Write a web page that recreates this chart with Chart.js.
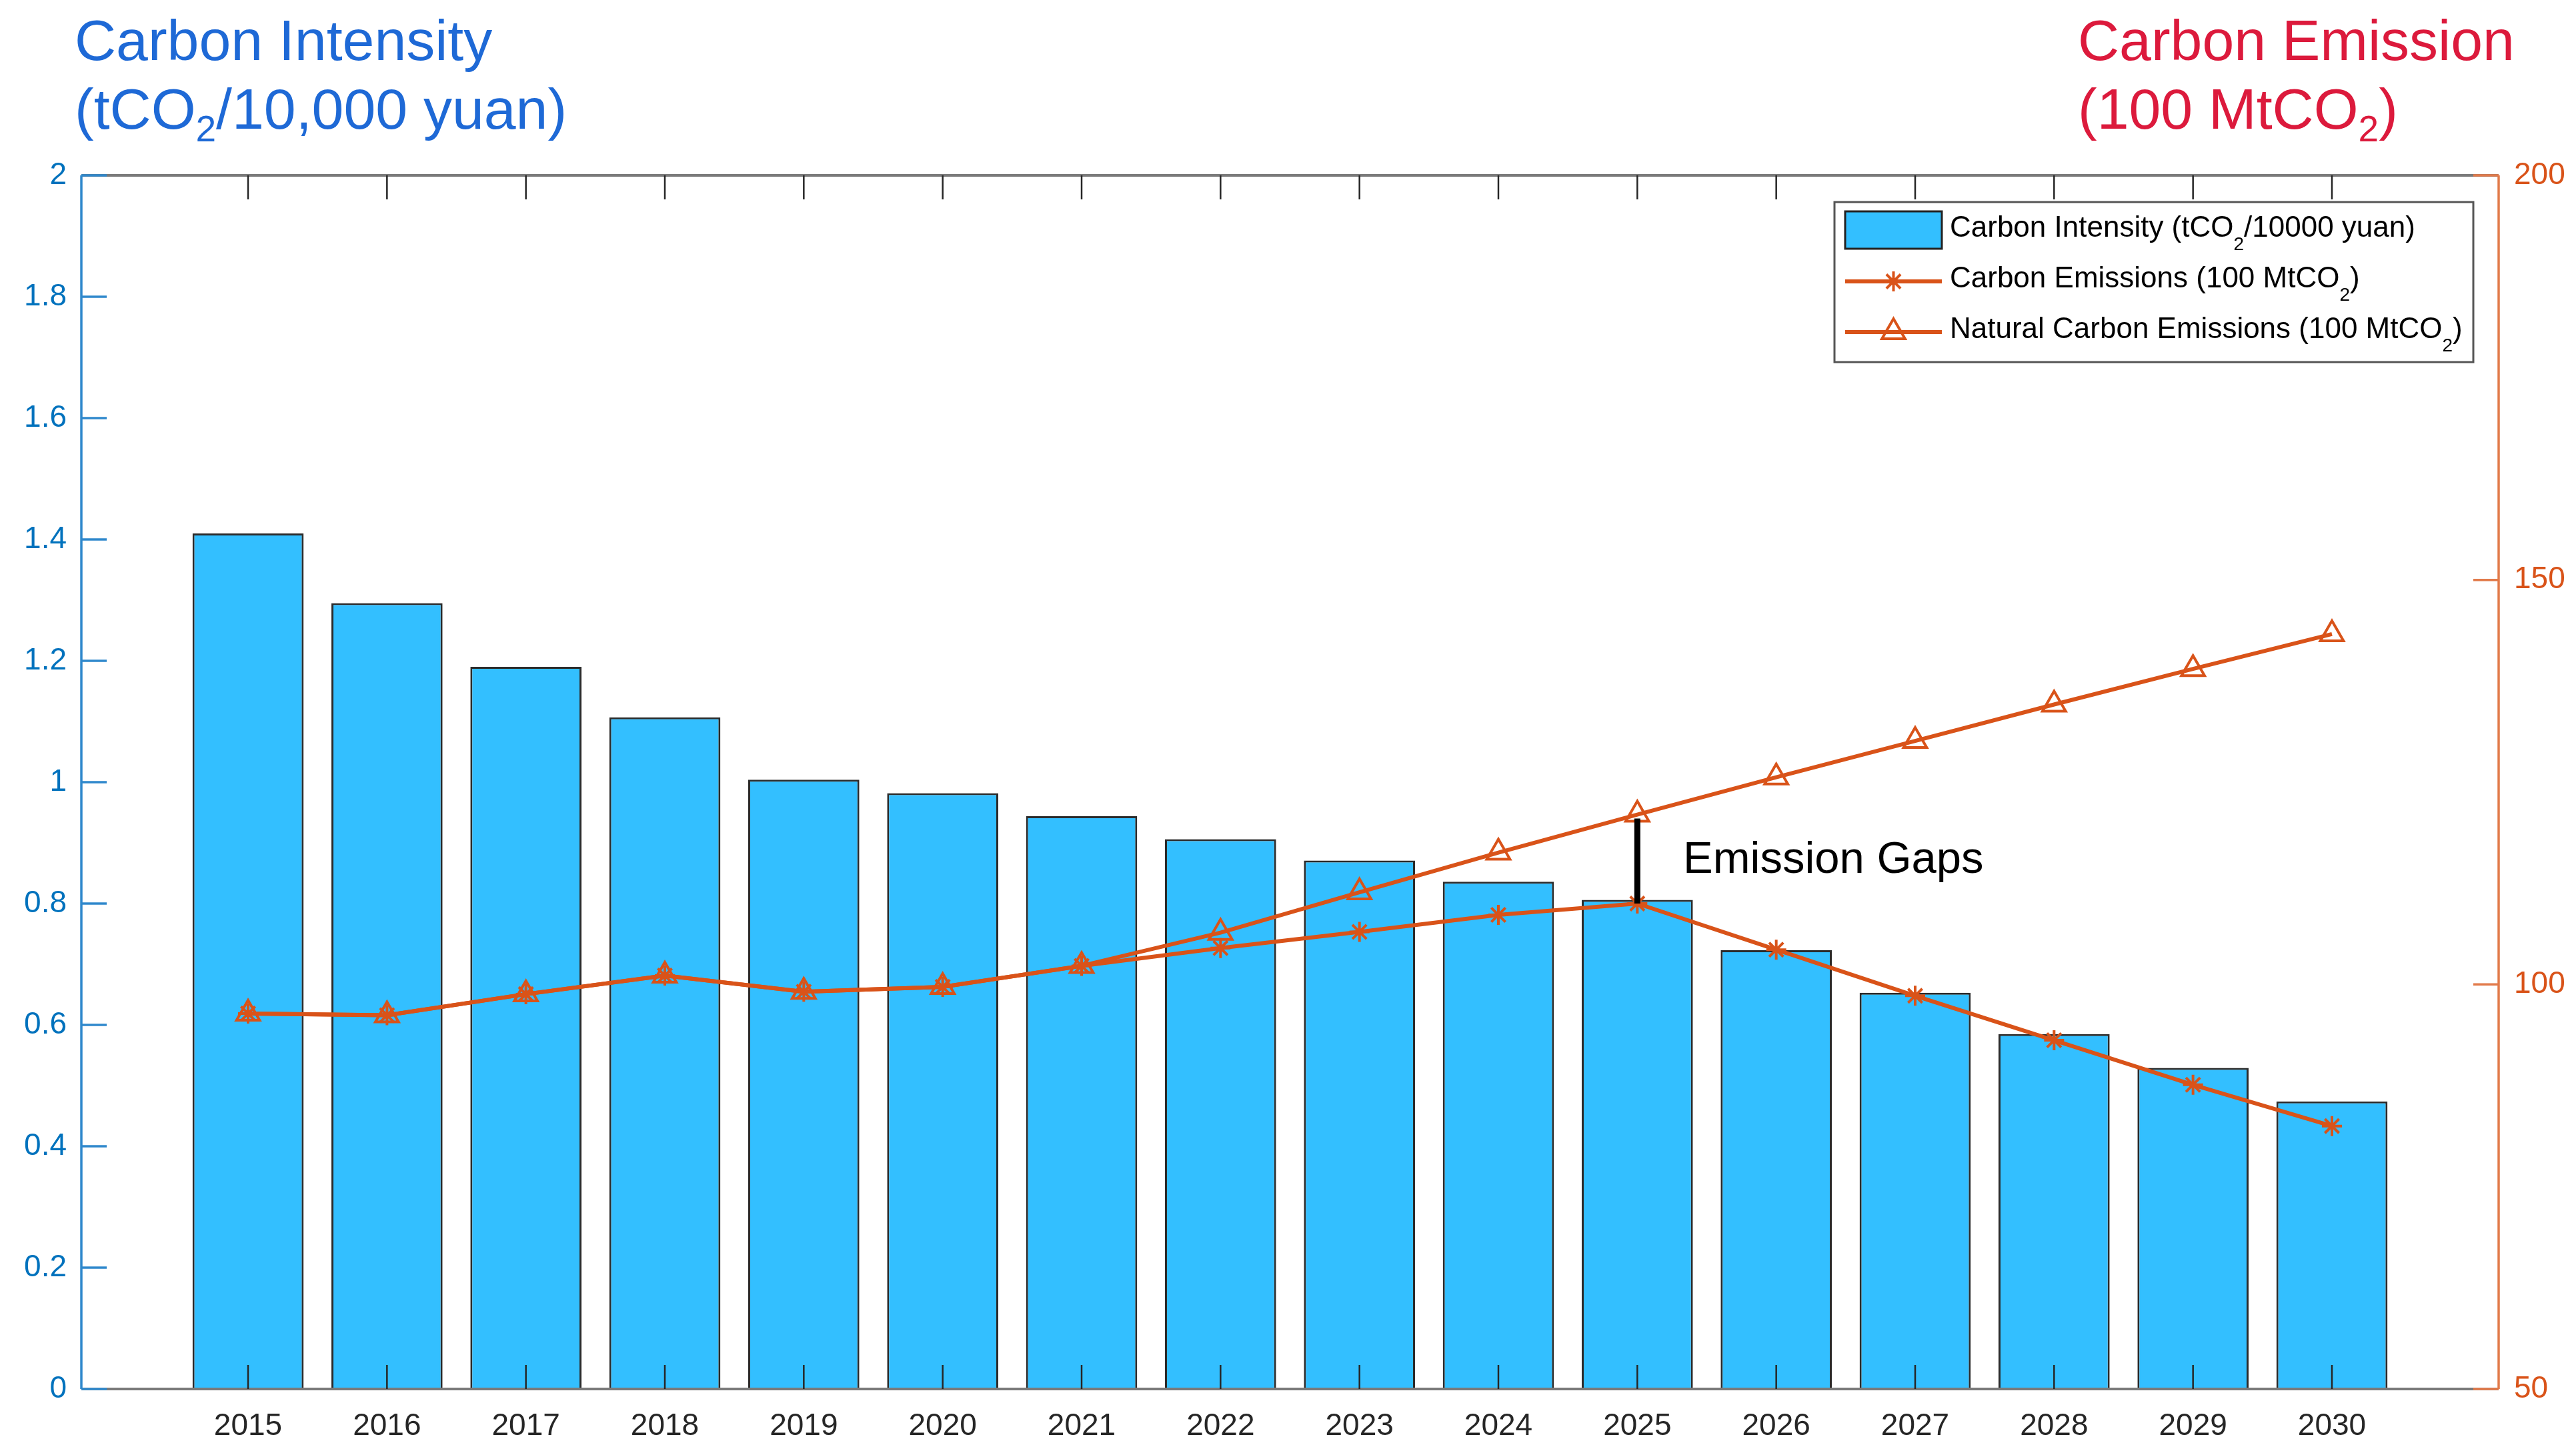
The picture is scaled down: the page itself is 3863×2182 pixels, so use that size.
<!DOCTYPE html>
<html>
<head>
<meta charset="utf-8">
<script src="https://cdn.jsdelivr.net/npm/chart.js@4.4.1/dist/chart.umd.min.js"></script>
<style>
  html, body { margin: 0; padding: 0; background: #fff; }
  #wrap { width: 3863px; height: 2182px; }
</style>
</head>
<body>
<div id="wrap"><canvas id="chart" width="3863" height="2182"></canvas></div>
<script>
// data
const years = [2015, 2016, 2017, 2018, 2019, 2020, 2021, 2022, 2023, 2024, 2025, 2026, 2027, 2028, 2029, 2030];
const intensity = [1.41, 1.295, 1.19, 1.107, 1.004, 0.982, 0.944, 0.906, 0.871, 0.836, 0.806, 0.723, 0.653, 0.585, 0.529, 0.474];
const emissions = [96.4, 96.2, 98.8, 101.1, 99.1, 99.7, 102.3, 104.5, 106.5, 108.6, 110.0, 104.3, 98.6, 93.1, 87.6, 82.5];
const naturalEmissions = [96.4, 96.2, 98.8, 101.1, 99.1, 99.7, 102.3, 106.4, 111.4, 116.3, 121.0, 125.6, 130.1, 134.6, 139.0, 143.3];
const leftTicks = [0, 0.2, 0.4, 0.6, 0.8, 1, 1.2, 1.4, 1.6, 1.8, 2];
const rightTicks = [50, 100, 150, 200];
const gapYear = 2025;

const FONT = '"Liberation Sans", Arial, Helvetica, sans-serif';
const ORANGE = '#D95319';
const BAR_BLUE = 'rgb(51,191,255)';

function drawRich(ctx, parts, x, y, size, color, subSize, subDrop) {
    let cx = x;
    ctx.fillStyle = color;
    ctx.textAlign = 'left';
    ctx.textBaseline = 'alphabetic';
    parts.forEach(p => {
        const sub = p[1];
        ctx.font = (sub ? subSize : size) + 'px ' + FONT;
        ctx.fillText(p[0], cx, sub ? y + subDrop : y);
        cx += ctx.measureText(p[0]).width;
    });
}

function seg(ctx, x1, y1, x2, y2) {
    ctx.beginPath();
    ctx.moveTo(x1, y1);
    ctx.lineTo(x2, y2);
    ctx.stroke();
}

const boxPlugin = {
    id: 'matlabBox',
    afterDatasetsDraw(chart) {
        const ctx = chart.ctx;
        const a = chart.chartArea;
        const sx = chart.scales.x, yl = chart.scales.y, yr = chart.scales.y1;
        ctx.save();
        // top and bottom box lines
        ctx.strokeStyle = '#7a7a7a';
        ctx.lineWidth = 4;
        seg(ctx, a.left, a.top, a.right, a.top);
        seg(ctx, a.left, a.bottom, a.right, a.bottom);
        // x ticks, inward at top and bottom
        ctx.strokeStyle = '#262626';
        ctx.lineWidth = 2.5;
        years.forEach(v => {
            const px = sx.getPixelForValue(v);
            seg(ctx, px, a.bottom, px, a.bottom - 36);
            seg(ctx, px, a.top, px, a.top + 36);
        });
        // left axis
        ctx.strokeStyle = '#2f88cc';
        ctx.lineWidth = 3.5;
        seg(ctx, a.left, a.top, a.left, a.bottom);
        leftTicks.forEach(v => {
            const py = yl.getPixelForValue(v);
            seg(ctx, a.left, py, a.left + 38, py);
        });
        // right axis
        ctx.strokeStyle = '#e27a4a';
        seg(ctx, a.right, a.top, a.right, a.bottom);
        rightTicks.forEach(v => {
            const py = yr.getPixelForValue(v);
            seg(ctx, a.right, py, a.right - 38, py);
        });

        // emission gap marker
        const i = years.indexOf(gapYear);
        const gx = sx.getPixelForValue(gapYear);
        ctx.strokeStyle = '#000';
        ctx.lineWidth = 9;
        seg(ctx, gx, yr.getPixelForValue(naturalEmissions[i]) + 6, gx, yr.getPixelForValue(emissions[i]));
        ctx.fillStyle = '#000';
        ctx.font = '67px ' + FONT;
        ctx.textAlign = 'left';
        ctx.textBaseline = 'alphabetic';
        ctx.fillText('Emission Gaps', 2524, 1309);
        ctx.restore();
    },
    afterDraw(chart) {
        const ctx = chart.ctx;
        ctx.save();
        // axis titles
        drawRich(ctx, [['Carbon Intensity']], 112, 90, 86, '#1E69D6', 55, 19);
        drawRich(ctx, [['(tCO'], ['2', true], ['/10,000 yuan)']], 112, 193, 86, '#1E69D6', 55, 19);
        drawRich(ctx, [['Carbon Emission']], 3116, 90, 86, '#DC1A3C', 55, 19);
        drawRich(ctx, [['(100 MtCO'], ['2', true], [')']], 3116, 193, 86, '#DC1A3C', 55, 19);

        // legend
        const L = 2751, T = 303, R = 3709, B = 543;
        ctx.fillStyle = '#fff';
        ctx.fillRect(L, T, R - L, B - T);
        ctx.strokeStyle = '#555';
        ctx.lineWidth = 3;
        ctx.strokeRect(L, T, R - L, B - T);

        ctx.fillStyle = BAR_BLUE;
        ctx.fillRect(2767, 317, 145, 56);
        ctx.strokeStyle = '#222';
        ctx.lineWidth = 3;
        ctx.strokeRect(2767, 317, 145, 56);

        const iconX1 = 2767, iconX2 = 2912, mid = (iconX1 + iconX2) / 2;
        ctx.strokeStyle = ORANGE;
        ctx.lineWidth = 6;
        seg(ctx, iconX1, 422, iconX2, 422);
        seg(ctx, iconX1, 498, iconX2, 498);
        ctx.lineWidth = 4;
        ctx.fillStyle = 'rgba(0,0,0,0)';
        Chart.helpers.drawPoint(ctx, { pointStyle: 'star', radius: 15, borderWidth: 4 }, mid, 422);
        Chart.helpers.drawPoint(ctx, { pointStyle: 'triangle', radius: 20, borderWidth: 4 }, mid, 498);

        drawRich(ctx, [['Carbon Intensity (tCO'], ['2', true], ['/10000 yuan)']], 2924, 355, 44, '#000', 28, 20);
        drawRich(ctx, [['Carbon Emissions (100 MtCO'], ['2', true], [')']], 2924, 431, 44, '#000', 28, 20);
        drawRich(ctx, [['Natural Carbon Emissions (100 MtCO'], ['2', true], [')']], 2924, 507, 44, '#000', 28, 20);
        ctx.restore();
    }
};

const ctx = document.getElementById('chart').getContext('2d');
new Chart(ctx, {
    type: 'bar',
    data: {
        datasets: [
            {
                type: 'line',
                label: 'Carbon Emissions (100 MtCO2)',
                data: years.map((yr, i) => ({ x: yr, y: emissions[i] })),
                yAxisID: 'y1',
                borderColor: ORANGE,
                borderWidth: 6,
                pointStyle: 'star',
                pointRadius: 15,
                pointBorderWidth: 4,
                pointBorderColor: ORANGE,
                pointBackgroundColor: ORANGE,
                tension: 0,
                order: 1
            },
            {
                type: 'line',
                label: 'Natural Carbon Emissions (100 MtCO2)',
                data: years.map((yr, i) => ({ x: yr, y: naturalEmissions[i] })),
                yAxisID: 'y1',
                borderColor: ORANGE,
                borderWidth: 6,
                pointStyle: 'triangle',
                pointRadius: 20,
                pointBorderWidth: 4,
                pointBorderColor: ORANGE,
                pointBackgroundColor: 'rgba(0,0,0,0)',
                tension: 0,
                order: 2
            },
            {
                label: 'Carbon Intensity (tCO2/10000 yuan)',
                data: years.map((yr, i) => ({ x: yr, y: intensity[i] })),
                yAxisID: 'y',
                backgroundColor: BAR_BLUE,
                borderColor: '#2b2b2b',
                borderWidth: 3,
                barPercentage: 0.8,
                categoryPercentage: 1.0,
                order: 3
            }
        ]
    },
    options: {
        responsive: false,
        animation: false,
        devicePixelRatio: 1,
        events: [],
        layout: { padding: { top: 263, left: 0, right: 0, bottom: 0 } },
        plugins: {
            legend: { display: false },
            tooltip: { enabled: false },
            title: { display: false }
        },
        scales: {
            x: {
                type: 'linear',
                min: 2013.8,
                max: 2031.2,
                offset: false,
                grid: { display: false, drawTicks: false },
                border: { display: false },
                afterBuildTicks: s => { s.ticks = years.map(v => ({ value: v })); },
                afterFit: s => { s.height = 99; },
                ticks: {
                    autoSkip: false,
                    maxRotation: 0,
                    padding: 29,
                    color: '#262626',
                    font: { family: FONT, size: 46 },
                    callback: v => String(v)
                }
            },
            y: {
                position: 'left',
                min: 0,
                max: 2,
                grid: { display: false, drawTicks: false },
                border: { display: false },
                afterBuildTicks: s => { s.ticks = leftTicks.map(v => ({ value: v })); },
                afterFit: s => { s.width = 122; },
                ticks: {
                    padding: 22,
                    color: '#0072BD',
                    font: { family: FONT, size: 46 },
                    callback: v => String(Number(v.toFixed(1)))
                }
            },
            y1: {
                position: 'right',
                min: 50,
                max: 200,
                grid: { display: false, drawTicks: false },
                border: { display: false },
                afterBuildTicks: s => { s.ticks = rightTicks.map(v => ({ value: v })); },
                afterFit: s => { s.width = 116; },
                ticks: {
                    padding: 23,
                    color: ORANGE,
                    font: { family: FONT, size: 46 },
                    callback: v => String(v)
                }
            }
        }
    },
    plugins: [boxPlugin]
});
</script>
</body>
</html>
